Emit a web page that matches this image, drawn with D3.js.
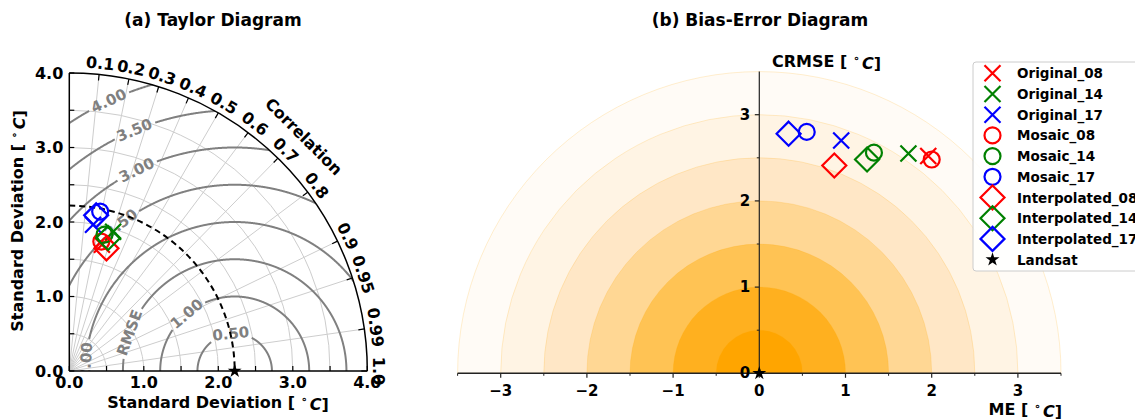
<!DOCTYPE html>
<html>
<head>
<meta charset="utf-8">
<script src="https://cdn.jsdelivr.net/npm/d3@7"></script>
<style>
  body { margin: 0; background: #fff; }
  svg { display: block; }
  text { font-family: "DejaVu Sans", sans-serif; font-weight: bold; }
</style>
</head>
<body>
<svg id="chart" width="1135" height="420"></svg>
<script>
// ---- data -------------------------------------------------------------
const series = ["Original_08", "Original_14", "Original_17",
                "Mosaic_08", "Mosaic_14", "Mosaic_17",
                "Interpolated_08", "Interpolated_14", "Interpolated_17"];
const seriesColors = ["#ff0000", "#008000", "#0000ff",
                      "#ff0000", "#008000", "#0000ff",
                      "#ff0000", "#008000", "#0000ff"];
const seriesMarkers = ["x", "x", "x", "o", "o", "o", "D", "D", "D"];

// Taylor statistics (standard deviation in °C, correlation with Landsat)
const stdDev      = [1.75, 1.96, 1.99, 1.79, 1.89, 2.18, 1.72, 1.86, 2.12];
const correlation = [0.25, 0.30, 0.16, 0.24, 0.25, 0.19, 0.29, 0.28, 0.17];

// Bias-error statistics (mean error and centred RMSE in °C)
const meanError = [1.96, 1.73, 0.95, 2.00, 1.33, 0.55, 0.87, 1.25, 0.34];
const crmse     = [2.52, 2.55, 2.70, 2.48, 2.56, 2.80, 2.41, 2.48, 2.78];

const refName = "Landsat";
const refStd = 2.22;

const stdMajorTicks = [0, 1, 2, 3, 4];
const stdMinorTicks = [0.5, 1.5, 2.5, 3.5];
const stdGridArcs = [0.5, 1, 1.5, 2, 2.5, 3, 3.5];
const corrTicks = [0.1, 0.2, 0.3, 0.4, 0.5, 0.6, 0.7, 0.8, 0.9, 0.95, 0.99, 1.0];
const corrTickLabels = ["0.1", "0.2", "0.3", "0.4", "0.5", "0.6", "0.7", "0.8", "0.9", "0.95", "0.99", "1.0"];
const rmsLevels = [0.5, 1, 1.5, 2, 2.5, 3, 3.5, 4];
const rmsLabels = ["0.50", "1.00", "RMSE", "2.00", "2.50", "3.00", "3.50", "4.00"];

const meTicks = [-3, -2, -1, 0, 1, 2, 3];
const meMinorTicks = [-3.5, -2.5, -1.5, -0.5, 0.5, 1.5, 2.5, 3.5];
const crmseTicks = [0, 1, 2, 3];
const crmseMinorTicks = [0.5, 1.5, 2.5];
const ringRadii = [3.5, 3, 2.5, 2, 1.5, 1, 0.5];
const ringColors = ["#fffbf6", "#fff4e4", "#ffe7c6", "#ffd794", "#ffc354", "#ffb01f", "#ffa500"];

// ---- helpers -----------------------------------------------------------
const svg = d3.select("#chart");

function markerPath(kind, s) {
  if (kind === "x") return `M${-s},${-s}L${s},${s}M${-s},${s}L${s},${-s}`;
  if (kind === "D") return `M0,${-s}L${s},0L0,${s}L${-s},0Z`;
  return null;
}
function drawMarker(g, kind, color, x, y, sz) {
  if (kind === "o") {
    g.append("circle").attr("cx", x).attr("cy", y).attr("r", sz.o)
      .attr("fill", "none").attr("stroke", color).attr("stroke-width", 2.2);
  } else if (kind === "star") {
    g.append("path").attr("transform", `translate(${x},${y})`)
      .attr("d", d3.symbol(d3.symbolStar, sz.star)()).attr("fill", "#000");
  } else {
    g.append("path").attr("transform", `translate(${x},${y})`)
      .attr("d", markerPath(kind, kind === "x" ? sz.x : sz.D))
      .attr("fill", "none").attr("stroke", color).attr("stroke-width", 2.2);
  }
}
function degLabel(sel, before) {
  sel.text(null);
  sel.append("tspan").text(before + " ");
  sel.append("tspan").text("\u2218").attr("font-size", "70%").attr("dy", "-0.45em");
  sel.append("tspan").text("C").attr("font-style", "italic").attr("dy", "0.45em").attr("dx", "2");
  sel.append("tspan").text("]");
}
const markerSize = { x: 8, o: 8, D: 12, star: 60 };

// ---- (a) Taylor diagram ----------------------------------------------
const tk = 74.5;
const tx = d3.scaleLinear().domain([0, 4]).range([69.3, 69.3 + 4 * tk]);
const ty = d3.scaleLinear().domain([0, 4]).range([371, 371 - 4 * tk]);
const polar = (r, th) => [tx(r * Math.cos(th)), ty(r * Math.sin(th))];

const taylor = svg.append("g");
svg.append("defs").append("clipPath").attr("id", "quarter")
  .append("path")
  .attr("d", `M${tx(0)},${ty(0)}L${tx(0)},${ty(4)}A${tk * 4},${tk * 4} 0 0 1 ${tx(4)},${ty(0)}Z`);

// standard deviation grid arcs
taylor.append("g").selectAll("path").data(stdGridArcs).join("path")
  .attr("d", r => `M${tx(0)},${ty(r)}A${r * tk},${r * tk} 0 0 1 ${tx(r)},${ty(0)}`)
  .attr("fill", "none").attr("stroke", "#cdcdcd").attr("stroke-width", 1);

// correlation radial grid lines
taylor.append("g").selectAll("line").data(corrTicks.filter(c => c < 1)).join("line")
  .attr("x1", tx(0)).attr("y1", ty(0))
  .attr("x2", c => polar(4, Math.acos(c))[0]).attr("y2", c => polar(4, Math.acos(c))[1])
  .attr("stroke", "#cdcdcd").attr("stroke-width", 1);

// centred RMS difference contours with inline labels
const rmsLabelAngle = [96, 130, 160, 176, 127.6, 116, 112.6, 115];
const rmsG = taylor.append("g").attr("clip-path", "url(#quarter)");
const rmsArcG = rmsG.append("g");
const rmsTextG = rmsG.append("g");
rmsLevels.forEach((rho, i) => {
  const a = rmsLabelAngle[i] * Math.PI / 180;
  const px = tx(refStd + rho * Math.cos(a)), py = ty(rho * Math.sin(a));
  const t = rmsTextG.append("text")
    .attr("transform", `translate(${px},${py}) rotate(${90 - rmsLabelAngle[i]})`)
    .attr("text-anchor", "middle").attr("dominant-baseline", "central")
    .attr("font-size", 15).attr("fill", "#808080").text(rmsLabels[i]);
  const w = t.node().getComputedTextLength();
  const gap = (w / 2 + 3) / (rho * tk);
  const pts = d3.range(0, 1441).map(j => {
    const phi = Math.PI * j / 1440;
    return { x: refStd + rho * Math.cos(phi), y: rho * Math.sin(phi), g: Math.abs(phi - a) < gap };
  });
  rmsArcG.append("path")
    .attr("d", d3.line().defined(d => !d.g).x(d => tx(d.x)).y(d => ty(d.y))(pts))
    .attr("fill", "none").attr("stroke", "#808080").attr("stroke-width", 2);
});

// reference standard deviation (dashed)
taylor.append("path")
  .attr("d", `M${tx(0)},${ty(refStd)}A${refStd * tk},${refStd * tk} 0 0 1 ${tx(refStd)},${ty(0)}`)
  .attr("fill", "none").attr("stroke", "#000").attr("stroke-width", 2).attr("stroke-dasharray", "6,4");

// outer arc and axes
taylor.append("path")
  .attr("d", `M${tx(0)},${ty(4)}A${4 * tk},${4 * tk} 0 0 1 ${tx(4)},${ty(0)}`)
  .attr("fill", "none").attr("stroke", "#000").attr("stroke-width", 1.5);
taylor.append("line").attr("x1", tx(0)).attr("y1", ty(0)).attr("x2", tx(0)).attr("y2", ty(4))
  .attr("stroke", "#000").attr("stroke-width", 1.5);
taylor.append("line").attr("x1", tx(0)).attr("y1", ty(0)).attr("x2", tx(4)).attr("y2", ty(0))
  .attr("stroke", "#000").attr("stroke-width", 1.5);

// std axis ticks (inward)
const allStd = stdMajorTicks.concat(stdMinorTicks);
taylor.append("g").selectAll("line").data(allStd).join("line")
  .attr("x1", tx(0)).attr("x2", tx(0) + 5).attr("y1", d => ty(d)).attr("y2", d => ty(d))
  .attr("stroke", "#000").attr("stroke-width", 1.2);
taylor.append("g").selectAll("line").data(allStd).join("line")
  .attr("y1", ty(0)).attr("y2", ty(0) - 5).attr("x1", d => tx(d)).attr("x2", d => tx(d))
  .attr("stroke", "#000").attr("stroke-width", 1.2);
taylor.append("g").selectAll("text").data(stdMajorTicks).join("text")
  .attr("x", tx(0) - 6).attr("y", d => ty(d)).attr("text-anchor", "end")
  .attr("dominant-baseline", "central").attr("font-size", 16).text(d => d.toFixed(1));
taylor.append("g").selectAll("text").data(stdMajorTicks).join("text")
  .attr("x", d => tx(d)).attr("y", 388).attr("text-anchor", "middle")
  .attr("font-size", 16).text(d => d.toFixed(1));

// correlation ticks and labels
taylor.append("g").selectAll("line").data(corrTicks).join("line")
  .attr("x1", c => polar(4, Math.acos(c))[0]).attr("y1", c => polar(4, Math.acos(c))[1])
  .attr("x2", c => polar(4 - 6 / tk, Math.acos(c))[0]).attr("y2", c => polar(4 - 6 / tk, Math.acos(c))[1])
  .attr("stroke", "#000").attr("stroke-width", 1.2);
taylor.append("g").selectAll("text").data(corrTicks).join("text")
  .attr("transform", (c) => {
    const th = Math.acos(c);
    const [px, py] = polar(4.15, th);
    return `translate(${px},${py}) rotate(${90 - th * 180 / Math.PI})`;
  })
  .attr("text-anchor", "middle").attr("dominant-baseline", "central")
  .attr("font-size", 16).text((c, i) => corrTickLabels[i]);
{
  const [px, py] = polar(4.45, Math.PI / 4);
  taylor.append("text").attr("transform", `translate(${px},${py}) rotate(45)`)
    .attr("text-anchor", "middle").attr("dominant-baseline", "central")
    .attr("font-size", 16).text("Correlation");
}

// model points and reference
const tPts = taylor.append("g");
series.forEach((s, i) => {
  const [px, py] = polar(stdDev[i], Math.acos(correlation[i]));
  drawMarker(tPts, seriesMarkers[i], seriesColors[i], px, py, markerSize);
});
drawMarker(tPts, "star", "#000", tx(refStd), ty(0), markerSize);

// axis titles and panel title
degLabel(taylor.append("text").attr("x", 218).attr("y", 408).attr("text-anchor", "middle")
  .attr("font-size", 16), "Standard Deviation [");
degLabel(taylor.append("text").attr("transform", "translate(23,221) rotate(-90)")
  .attr("text-anchor", "middle").attr("font-size", 16), "Standard Deviation [");
taylor.append("text").attr("x", 213).attr("y", 26).attr("text-anchor", "middle")
  .attr("font-size", 17).text("(a) Taylor Diagram");

// ---- (b) Bias-error diagram ---------------------------------------------
const bk = 86.2;
const bx = d3.scaleLinear().domain([-3.5, 3.5]).range([759.3 - 3.5 * bk, 759.3 + 3.5 * bk]);
const by = d3.scaleLinear().domain([0, 3.5]).range([373.3, 373.3 - 3.5 * bk]);
const bias = svg.append("g");

// concentric CRMSE/ME rings
bias.append("g").selectAll("path").data(ringRadii).join("path")
  .attr("d", r => `M${bx(-r)},${by(0)}A${r * bk},${r * bk} 0 0 1 ${bx(r)},${by(0)}Z`)
  .attr("fill", (r, i) => ringColors[i])
  .attr("stroke", "rgba(255,165,0,0.18)").attr("stroke-width", 1);

// axes through the origin
bias.append("line").attr("x1", bx(-3.5)).attr("x2", bx(3.5)).attr("y1", by(0)).attr("y2", by(0))
  .attr("stroke", "#222").attr("stroke-width", 1.5);
bias.append("line").attr("x1", bx(0)).attr("x2", bx(0)).attr("y1", by(0)).attr("y2", by(3.5))
  .attr("stroke", "#222").attr("stroke-width", 1.2);
bias.append("g").selectAll("line").data(meTicks).join("line")
  .attr("x1", d => bx(d)).attr("x2", d => bx(d)).attr("y1", by(0)).attr("y2", by(0) + 4.5)
  .attr("stroke", "#222").attr("stroke-width", 1.2);
bias.append("g").selectAll("line").data(meMinorTicks).join("line")
  .attr("x1", d => bx(d)).attr("x2", d => bx(d)).attr("y1", by(0)).attr("y2", by(0) + 2.5)
  .attr("stroke", "#222").attr("stroke-width", 1);
bias.append("g").selectAll("line").data(crmseTicks).join("line")
  .attr("x1", bx(0)).attr("x2", bx(0) - 4.5).attr("y1", d => by(d)).attr("y2", d => by(d))
  .attr("stroke", "#222").attr("stroke-width", 1.2);
bias.append("g").selectAll("line").data(crmseMinorTicks).join("line")
  .attr("x1", bx(0)).attr("x2", bx(0) - 2.5).attr("y1", d => by(d)).attr("y2", d => by(d))
  .attr("stroke", "#222").attr("stroke-width", 1);
const fmt = d3.format("d");
bias.append("g").selectAll("text").data(meTicks).join("text")
  .attr("x", d => bx(d)).attr("y", 396).attr("text-anchor", "middle")
  .attr("font-size", 15).text(d => fmt(d));
bias.append("g").selectAll("text").data(crmseTicks).join("text")
  .attr("x", bx(0) - 9).attr("y", d => by(d)).attr("text-anchor", "end")
  .attr("dominant-baseline", "central").attr("font-size", 15).text(d => fmt(d));

// points
const bPts = bias.append("g");
series.forEach((s, i) => {
  drawMarker(bPts, seriesMarkers[i], seriesColors[i], bx(meanError[i]), by(crmse[i]), markerSize);
});
drawMarker(bPts, "star", "#000", bx(0), by(0), markerSize);

degLabel(bias.append("text").attr("x", 772).attr("y", 67).attr("font-size", 16), "CRMSE [");
degLabel(bias.append("text").attr("x", 1062).attr("y", 415).attr("text-anchor", "end")
  .attr("font-size", 16), "ME [");
bias.append("text").attr("x", 760).attr("y", 26).attr("text-anchor", "middle")
  .attr("font-size", 17).text("(b) Bias-Error Diagram");

// legend
const legend = svg.append("g");
legend.append("rect").attr("x", 973).attr("y", 62).attr("width", 200).attr("height", 209)
  .attr("rx", 3).attr("fill", "rgba(255,255,255,0.85)").attr("stroke", "#cccccc").attr("stroke-width", 1);
const legNames = series.concat([refName]);
const legMarkers = seriesMarkers.concat(["star"]);
const legColors = seriesColors.concat(["#000"]);
legNames.forEach((name, i) => {
  const y = 73.3 + i * 20.7;
  drawMarker(legend, legMarkers[i], legColors[i], 992.5, y, markerSize);
  legend.append("text").attr("x", 1017).attr("y", y).attr("dominant-baseline", "central")
    .attr("font-size", 13.5).text(name);
});
</script>
</body>
</html>
